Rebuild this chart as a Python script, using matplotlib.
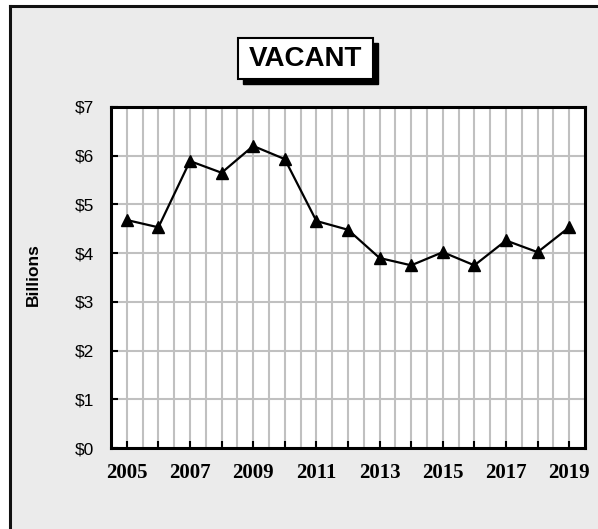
import matplotlib
matplotlib.use("Agg")
import matplotlib.pyplot as plt
from matplotlib.patches import Rectangle
from matplotlib.lines import Line2D
from matplotlib.ticker import MultipleLocator, FuncFormatter

years = list(range(2005, 2020))
values = [4.68, 4.53, 5.89, 5.65, 6.20, 5.93, 4.66, 4.48, 3.90, 3.75, 4.02, 3.75, 4.26, 4.02, 4.53]
title = "VACANT"
ylabel = "Billions"

W, H = 598, 529
fig = plt.figure(figsize=(W / 100, H / 100), dpi=100)
fig.patch.set_facecolor("white")

def fx(px):
    return px / W

def fy(py):
    return 1 - py / H

# outer frame (gray panel, right/bottom edges beyond the image)
fig.patches.append(Rectangle((fx(10), fy(H + 20)), 1.2, fy(6) - fy(H + 20),
                             transform=fig.transFigure, facecolor="#ebebeb",
                             edgecolor="none", zorder=-10))
fig.add_artist(Line2D([fx(10), fx(10)], [fy(6), 0], transform=fig.transFigure,
                      color="#111111", lw=2.2, zorder=-5))
fig.add_artist(Line2D([fx(10), 1], [fy(6), fy(6)], transform=fig.transFigure,
                      color="#111111", lw=2.2, zorder=-5))

ax = fig.add_axes([fx(111), fy(448), fx(585) - fx(111), fy(107) - fy(448)])
ax.set_zorder(1)
ax.set_facecolor("white")
ax.plot(years, values, color="black", lw=1.6, marker="^", markersize=9,
        markerfacecolor="black", markeredgecolor="black", zorder=3, clip_on=False)

ax.set_xlim(2004.5, 2019.5)
ax.set_ylim(0, 7)
ax.set_xticks(years)
ax.set_xticklabels([str(y) if (y - 2005) % 2 == 0 else "" for y in years],
                   fontfamily="Liberation Serif", fontweight="bold", fontsize=15)
ax.xaxis.set_minor_locator(MultipleLocator(0.5))
ax.yaxis.set_major_locator(MultipleLocator(1))
ax.yaxis.set_major_formatter(FuncFormatter(lambda v, p: f"${int(v)}"))
for lab in ax.get_yticklabels():
    lab.set_fontfamily("Liberation Sans")
    lab.set_fontsize(12.5)

ax.tick_params(axis="both", which="major", direction="in", length=5, width=1.5, color="black")
ax.tick_params(axis="x", which="major", pad=11)
ax.tick_params(axis="y", which="major", pad=12)
ax.tick_params(axis="x", which="minor", length=0)

ax.grid(True, axis="x", which="both", color="#c0c0c0", lw=1.5, zorder=1)
ax.grid(True, axis="y", which="major", color="#c0c0c0", lw=1.5, zorder=1)
ax.set_axisbelow(True)
for s in ax.spines.values():
    s.set_linewidth(2.2)
    s.set_color("black")

# y label
fig.text(fx(33), fy(275), ylabel, rotation=90, ha="center", va="center",
         fontfamily="Liberation Sans", fontweight="bold", fontsize=12.5)

# title box with shadow
bx0, by0, bx1, by1 = 238, 38, 373, 79
sh = 4.5
fig.patches.append(Rectangle((fx(bx0 + sh), fy(by1 + sh)), fx(bx1 - bx0), fy(by0) - fy(by1),
                             transform=fig.transFigure, facecolor="black",
                             edgecolor="black", lw=1, zorder=2))
fig.patches.append(Rectangle((fx(bx0), fy(by1)), fx(bx1 - bx0), fy(by0) - fy(by1),
                             transform=fig.transFigure, facecolor="white",
                             edgecolor="black", lw=1.5, zorder=3))
fig.text(fx((bx0 + bx1) / 2), fy((by0 + by1) / 2), title, ha="center", va="center",
         fontfamily="Liberation Sans", fontweight="bold", fontsize=20, zorder=4)

fig.savefig("out.png", dpi=100)
